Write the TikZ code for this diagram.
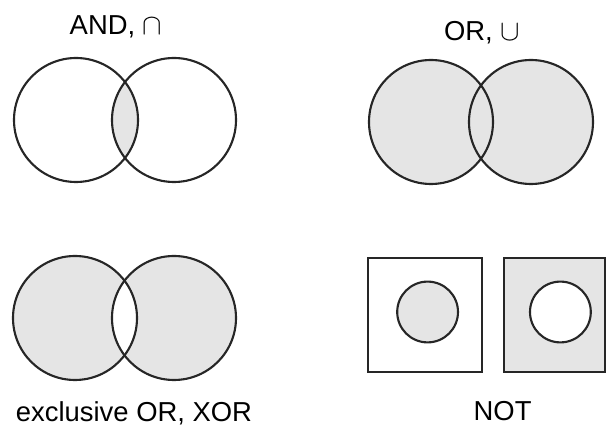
\documentclass[tikz,border=0pt]{standalone}
\usepackage{fontspec}
\setmainfont{Liberation Sans}
\begin{document}
\begin{tikzpicture}[venn/.style={draw=black!85,line width=1.5pt},
   shaded/.style={fill=gray!20},
   caption/.style={font=\fontsize{19.5}{22}\selectfont,anchor=base}]
   \useasboundingbox (0,0) rectangle (15.175,10.65);
   \begin{scope}[xshift=1.9cm,yshift=7.65cm]
    \begin{scope}
     \clip (0,0) circle (1.55);
     \fill[shaded] (2.45,0) circle (1.55);
    \end{scope}
    \draw[venn] (0,0) circle (1.55);
    \draw[venn] (2.45,0) circle (1.55);
    \node[caption] (andlabel) at (1.0,2.125) {AND, $\cap$};
   \end{scope}
   \begin{scope}[xshift=10.775cm,yshift=7.6cm]
    \fill[shaded] (0,0) circle (1.55) (2.5,0) circle (1.55);
    \draw[venn] (0,0) circle (1.55);
    \draw[venn] (2.5,0) circle (1.55);
    \node[caption] (orlabel) at (1.275,2.04) {OR, $\cup$};
   \end{scope}
   \begin{scope}[xshift=1.875cm,yshift=2.7cm]
    \fill[shaded,even odd rule] (0,0) circle (1.55) (2.475,0) circle (1.55);
    \draw[venn] (0,0) circle (1.55);
    \draw[venn] (2.475,0) circle (1.55);
    \node[caption] (xorlabel) at (1.475,-2.6) {exclusive OR, XOR};
   \end{scope}
   \begin{scope}[xshift=9.2cm,yshift=1.35cm]
    \draw[venn] (0,0) rectangle (2.85,2.85);
    \filldraw[venn,shaded] (1.49,1.5) circle (0.76);
    \filldraw[venn,shaded] (3.4,0) rectangle (5.925,2.85);
    \filldraw[venn,fill=white] (4.81,1.5) circle (0.76);
    \node[caption] (notlabel) at (3.365,-1.225) {NOT};
   \end{scope}
\end{tikzpicture}
\end{document}
